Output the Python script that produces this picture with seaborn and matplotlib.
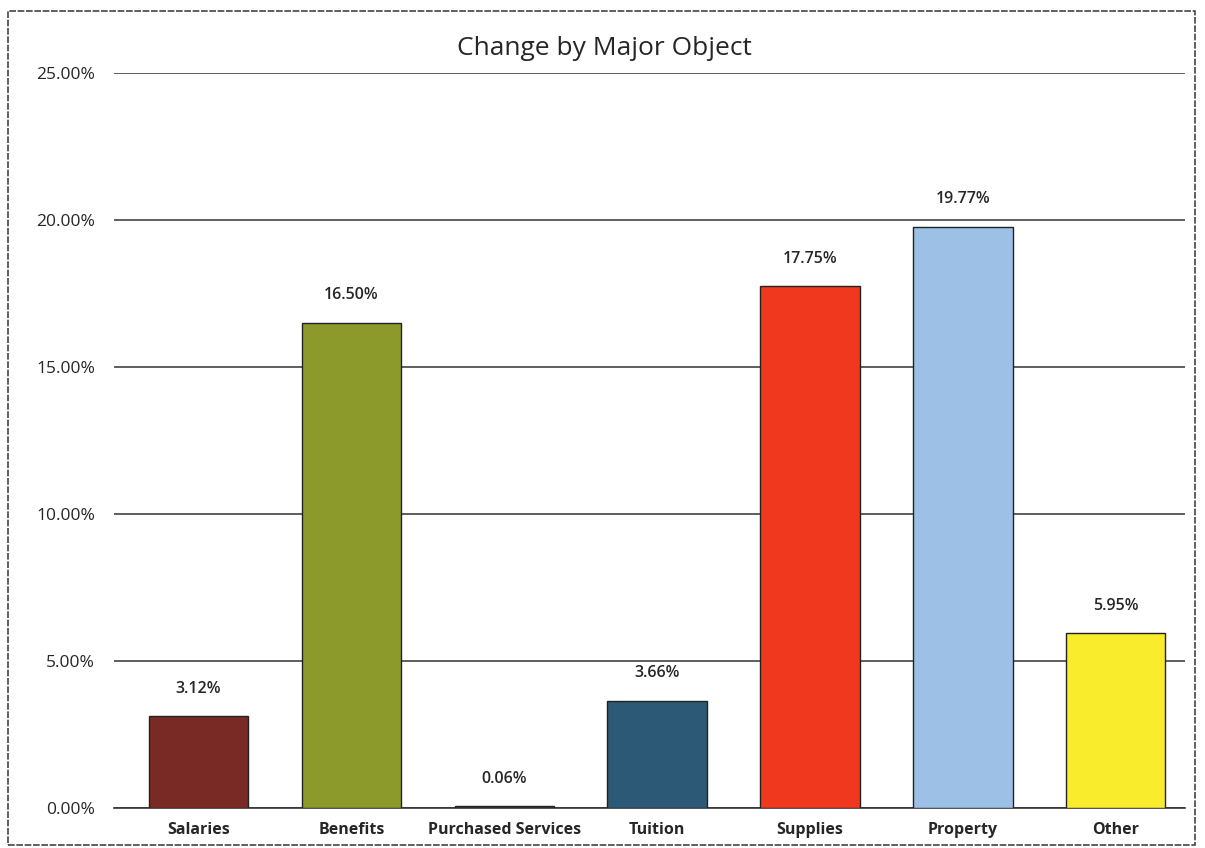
import matplotlib
matplotlib.use("Agg")
import matplotlib.pyplot as plt
import seaborn as sns
import pandas as pd
from matplotlib.patches import Rectangle

categories = ["Salaries", "Benefits", "Purchased Services", "Tuition", "Supplies", "Property", "Other"]
changes = [3.12, 16.50, 0.06, 3.66, 17.75, 19.77, 5.95]
bar_colors = ["#7A2A25", "#8C9A2C", "#3A3A3A", "#2C5975", "#F0381F", "#9DC0E6", "#F8EC2C"]
y_ticks = [0, 5, 10, 15, 20, 25]

df = pd.DataFrame({"category": categories, "change": changes})

sns.set_style("white")
plt.rcParams["font.family"] = ["Open Sans", "DejaVu Sans"]

fig = plt.figure(figsize=(12.05, 8.48), dpi=100)
ax = fig.add_axes([0.095, 0.047, 0.888, 0.867])

sns.barplot(data=df, x="category", y="change", hue="category", palette=bar_colors,
            saturation=1, legend=False, width=0.65, edgecolor="#222222", linewidth=1.0,
            ax=ax, zorder=3)

ax.set_ylim(0, 25)
ax.set_xlim(-0.55, 6.45)
ax.set_yticks(y_ticks)
ax.set_yticklabels([f"{t:.2f}%" for t in y_ticks], fontsize=12.5)
ax.yaxis.grid(True, color="#333333", linewidth=1.1, linestyle="-")
ax.set_axisbelow(True)
ax.tick_params(axis="y", length=0, pad=14)
ax.tick_params(axis="x", length=0, pad=10)
for lbl in ax.get_xticklabels():
    lbl.set_fontweight("bold")
    lbl.set_fontsize(11.5)
ax.set_xlabel("")
ax.set_ylabel("")
for s in ["left", "right", "top"]:
    ax.spines[s].set_visible(False)
ax.spines["bottom"].set_color("#333333")
ax.spines["bottom"].set_linewidth(1.2)

for i, v in enumerate(changes):
    ax.annotate(f"{v:.2f}%", (i, v), xytext=(0, 14), textcoords="offset points",
                ha="center", va="bottom", fontsize=11.5, fontweight="semibold")

fig.suptitle("Change by Major Object", x=0.502, y=0.957, fontsize=19)

fig.patches.append(Rectangle((0.007, 0.004), 0.985, 0.983, transform=fig.transFigure,
                             fill=False, edgecolor="#444444", linewidth=1.2, linestyle=(0, (4, 1))))

fig.savefig("out.png", dpi=100, facecolor="white")
